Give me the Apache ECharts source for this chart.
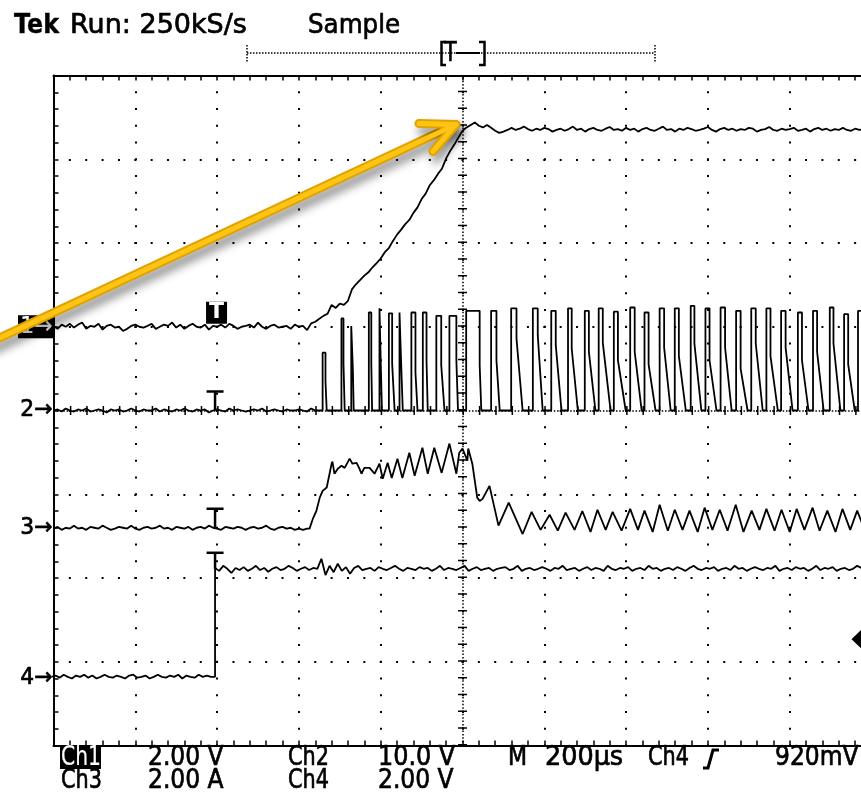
<!DOCTYPE html>
<html><head><meta charset="utf-8">
<script src="https://cdn.jsdelivr.net/npm/echarts@6/dist/echarts.min.js"></script>
<style>html,body{margin:0;padding:0;background:#fff;}#c{width:861px;height:798px;}</style>
</head><body><div id="c"></div>
<script>
// ---------------- DATA (time in µs from trigger, values in channel units) ----------------
const STEP_US = 10;
const timeMin = -400, timeMax = 1600, timeInterval = 200;
const channelLabels = ['Ch1', 'Ch2', 'Ch3', 'Ch4'];
const channelUnits = ['2.00 V', '10.0 V', '2.00 A', '2.00 V'];
const unitsPerDiv = [2, 10, 2, 2];
const timebaseLabel = '200µs';
const triggerLabel = '920mV';
const triggerLevelCh4 = 0.92;       // V
const triggerTime = -5;             // µs
const triggerMarkValues = [0, 0, 0, 2.6];

// Ch1 (V), sampled every 10 µs
const ch1PreStart = -400;
const ch1Pre = [0.02,-0.05,0.05,0.00,0.07,-0.02,0.05,0.10,-0.05,0.02,
  0.00,0.07,-0.07,0.02,0.05,-0.02,0.00,-0.10,-0.05,0.02,
  0.05,0.00,-0.02,0.02,0.07,-0.05,0.00,0.05,0.02,0.10,
  -0.02,0.05,-0.05,0.02,0.07,0.00,-0.02,0.05,-0.07,0.02,
  0.00,0.05,-0.02,0.07,0.02,-0.05,0.00,0.02,0.05,-0.02,
  0.10,0.00,-0.05,0.02,0.05,-0.02,0.00,0.02,-0.05,0.05,
  0.00,0.02];
const ch1RiseStart = 220;
const ch1Rise = [-0.08,0.08,0.12,0.19,0.26,0.31,0.52,0.45,0.55,0.52,0.62,0.90,1.02,1.12,1.22,1.30,1.42,1.52,1.63,1.78,
  1.88,2.05,2.20,2.32,2.45,2.55,2.72,2.85,3.05,3.18,3.38,3.50,3.65,3.78,4.02,4.20,4.35,4.52,4.68,4.76,4.82,4.88,4.80];
const ch1TopStart = 650;
const ch1Top = [4.76,4.82,4.75,4.68,4.63,4.66,4.70,4.75,4.70,4.73,
  4.78,4.72,4.68,4.73,4.70,4.75,4.72,4.66,4.70,4.73,
  4.68,4.72,4.78,4.70,4.73,4.66,4.72,4.75,4.70,4.68,
  4.73,4.77,4.70,4.72,4.68,4.75,4.70,4.73,4.66,4.72,
  4.75,4.70,4.68,4.73,4.78,4.70,4.72,4.66,4.73,4.70,
  4.75,4.72,4.68,4.70,4.73,4.77,4.70,4.66,4.72,4.75,
  4.70,4.73,4.68,4.72,4.70,4.75,4.73,4.66,4.70,4.72,
  4.77,4.70,4.68,4.73,4.70,4.72,4.75,4.68,4.70,4.73,
  4.66,4.72,4.75,4.70,4.73,4.68,4.72,4.70,4.75,4.70,
  4.68,4.73,4.70,4.72,4.75,4.70];

// Ch2 (V): baseline samples, then pulses [tRise, tFall, vTop, vShoulder, tLow]
const ch2BaseStart = -400;
const ch2Base = [0.00,0.12,-0.12,0.24,0.00,-0.12,0.12,0.00,0.24,-0.12,
  0.00,0.12,0.00,-0.24,0.12,0.00,0.12,-0.12,0.00,0.24,
  0.00,-0.12,0.12,0.00,0.00,0.24,-0.12,0.12,0.00,-0.12,
  0.12,0.00,0.24,0.00,-0.12,0.12,0.00,0.12,-0.24,0.00,
  0.12,0.00,-0.12,0.24,0.00,0.12,0.00,-0.12,0.00,0.12,
  0.00,0.24,-0.12,0.00,0.12,0.00,-0.12,0.12,0.00,0.00,
  0.12,0.00,-0.12,0.24,0.00,0.00];
const ch2Pulses = [
  [258,265,6.9,3.5,268],[304,309,11.0,5.6,312],[328,332,10.1,4.8,334],[371,377,11.7,5.6,379],
  [397,401,12.2,4.0,403],[420,428,11.6,5.6,434],[446,450,11.7,5.6,454],[475,485,11.7,4.5,490],
  [503,512,11.7,6.0,515],[536,548,11.3,5.4,556],[568,585,11.3,6.0,589],[609,642,11.9,5.4,646],
  [670,683,11.9,6.0,691],[719,732,12.2,8.6,747],[772,784,12.2,9.0,796],[817,828,11.9,7.8,842],
  [858,867,12.2,7.4,882],[899,909,11.9,7.0,925],[933,943,12.2,8.1,962],[970,980,11.8,6.0,999],
  [1010,1021,12.3,7.0,1038],[1045,1055,11.7,5.5,1072],[1082,1093,12.2,7.5,1109],[1119,1129,12.2,6.5,1146],
  [1158,1167,12.5,8.0,1184],[1194,1204,12.2,6.0,1221],[1231,1242,12.3,7.5,1258],[1269,1280,11.9,5.0,1297],
  [1306,1317,12.2,8.0,1334],[1343,1353,12.2,6.5,1371],[1379,1390,11.9,7.5,1407],[1420,1430,11.7,6.0,1446],
  [1457,1467,11.9,7.0,1483],[1498,1507,12.3,8.0,1524],[1533,1543,11.5,5.5,1559],[1567,1577,11.9,7.0,1593]
];

// Ch3 (A): flat samples, then waveform vertices [t, A]
const ch3PreStart = -400;
const ch3Pre = [-0.02,0.02,-0.05,0.00,-0.02,0.05,-0.02,0.00,-0.05,0.02,
  0.00,-0.02,0.05,0.00,-0.05,-0.02,0.02,0.00,-0.02,0.05,
  -0.02,-0.05,0.00,0.02,-0.02,0.00,0.05,-0.02,0.00,-0.05,
  0.02,0.00,-0.02,0.02,-0.05,0.00,0.02,-0.02,0.05,0.00,
  -0.02,-0.05,0.02,0.00,-0.02,0.02,0.00,-0.05,0.00,0.02,
  -0.02,0.00,0.05,-0.02,-0.05,0.00,0.02,-0.02,0.00,-0.05,
  -0.02,-0.05,-0.02];
const ch3Wave = [[226,-0.02],[234,0.21],[243,0.41],[251,0.72],[258,0.88],[268,0.96],[275,1.29],[280,1.53],[282,1.58],
  [287,1.29],[295,1.41],[304,1.48],[312,1.43],[324,1.65],[331,1.53],[341,1.55],[348,1.41],[353,1.29],[360,1.43],
  [373,1.43],[385,1.29],[397,1.53],[405,1.17],[417,1.55],[427,1.19],[441,1.65],[453,1.19],[470,1.79],[483,1.24],
  [502,1.91],[515,1.29],[531,1.91],[549,1.31],[568,2.01],[585,1.29],[592,1.79],[600,1.89],[612,1.60],[614,1.89],
  [624,1.53],[636,0.72],[642,0.64],[649,0.69],[666,1.00],[688,0.05],[713,0.60],[747,-0.15],[769,0.38],[791,-0.05],
  [813,0.31],[833,-0.07],[852,0.36],[874,-0.05],[893,0.40],[913,-0.10],[930,0.43],[950,-0.05],[967,0.38],[989,-0.07],
  [1010,0.45],[1029,-0.05],[1045,0.41],[1065,-0.10],[1082,0.55],[1102,-0.07],[1119,0.43],[1138,-0.05],[1155,0.41],
  [1175,-0.10],[1192,0.48],[1211,-0.05],[1229,0.43],[1248,-0.07],[1268,0.55],[1287,-0.10],[1307,0.41],[1326,-0.05],
  [1343,0.45],[1363,-0.07],[1380,0.43],[1400,-0.10],[1417,0.45],[1436,-0.05],[1456,0.48],[1473,-0.07],[1492,0.41],
  [1512,-0.10],[1529,0.45],[1548,-0.05],[1565,0.41],[1584,-0.07],[1600,0.40]];

// Ch4 (V)
const ch4PreStart = -405;
const ch4Pre = [0.02,0.05,0.00,0.07,0.02,-0.02,0.05,0.02,0.07,0.00,
  0.05,-0.02,0.02,0.07,0.02,0.00,0.05,0.02,-0.02,0.05,
  0.07,0.00,0.02,0.05,-0.02,0.02,0.07,0.02,0.00,0.05,
  0.02,0.07,-0.02,0.05,0.02,0.00,0.07,0.02,0.05,0.02,0.02];
const ch4PostStart = -5;
const ch4Post = [2.62,2.55,2.67,2.60,2.50,2.62,2.57,2.64,2.55,2.60,
  2.67,2.57,2.62,2.53,2.60,2.64,2.57,2.60,2.67,2.62,
  2.55,2.60,2.64,2.57,2.62,2.60,2.84,2.45,2.67,2.52,
  2.72,2.55,2.64,2.48,2.62,2.67,2.57,2.60,2.62,2.55,
  2.64,2.60,2.57,2.62,2.67,2.60,2.55,2.62,2.60,2.57,
  2.64,2.60,2.62,2.55,2.60,2.67,2.57,2.62,2.60,2.57,
  2.62,2.67,2.55,2.60,2.64,2.57,2.60,2.62,2.55,2.60,
  2.62,2.64,2.57,2.60,2.67,2.55,2.60,2.62,2.57,2.60,
  2.64,2.60,2.55,2.62,2.60,2.67,2.57,2.60,2.62,2.55,
  2.60,2.64,2.57,2.62,2.60,2.55,2.67,2.60,2.57,2.62,
  2.60,2.64,2.55,2.60,2.62,2.57,2.67,2.60,2.62,2.55,
  2.60,2.62,2.57,2.64,2.60,2.55,2.62,2.67,2.60,2.57,
  2.62,2.60,2.64,2.55,2.60,2.62,2.57,2.67,2.60,2.62,
  2.55,2.60,2.64,2.60,2.57,2.62,2.60,2.67,2.55,2.60,
  2.62,2.57,2.64,2.60,2.62,2.55,2.60,2.67,2.57,2.62,
  2.60,2.64,2.55,2.60,2.62,2.57,2.60,2.67,2.62,2.60,
  2.62];

// ---------------- LAYOUT (screen divisions) ----------------
const groundDiv = [1.0, 0, -1.40, -3.19];

// ---------------- BUILD ----------------
function samples(start, values) { return values.map((v, i) => [start + i * STEP_US, v]); }
function before(arr, t) { return arr.filter(p => p[0] < t); }
function toDiv(points, k) { return points.map(p => [p[0], p[1] / unitsPerDiv[k] + groundDiv[k]]); }

const ch1Data = [...before(samples(ch1PreStart, ch1Pre), ch1RiseStart),
                 ...before(samples(ch1RiseStart, ch1Rise), ch1TopStart),
                 ...samples(ch1TopStart, ch1Top)];
const ch2Data = before(samples(ch2BaseStart, ch2Base), ch2Pulses[0][0]);
ch2Pulses.forEach(([r, f, top, mid, low]) => {
  ch2Data.push([r, 0], [r, top], [f, top], [f, mid], [low, 0]);
});
const ch3Data = [...before(samples(ch3PreStart, ch3Pre), ch3Wave[0][0]), ...ch3Wave];
const ch4Data = [...samples(ch4PreStart, ch4Pre), ...samples(ch4PostStart, ch4Post)];

const traces = [ch1Data, ch2Data, ch3Data, ch4Data];

const axisCommon = {
  type: 'value', axisLabel: { show: false },
  axisLine: { show: true, onZero: false, lineStyle: { color: '#000', width: 2 } },
  axisTick: { show: true, inside: true, length: 5, lineStyle: { color: '#000', width: 1.5 } },
  minorTick: { show: true, splitNumber: 5, length: 5, lineStyle: { color: '#000', width: 1.5 } },
  minorSplitLine: { show: false }
};

const series = traces.map((d, k) => ({
  name: channelLabels[k], type: 'line', data: toDiv(d, k), showSymbol: false, symbol: 'none',
  lineStyle: { color: '#000', width: 1.8 }, silent: true, z: 3, animation: false, clip: true
}));
series[1].markLine = {
  silent: true, symbol: 'none', label: { show: false }, animation: false,
  data: [
    { xAxis: 600, lineStyle: { color: '#000', width: 1.5, type: [1.5, 1.85] } },
    { xAxis: 600, lineStyle: { color: '#000', width: 9, type: [1.5, 15.25] } },
    { yAxis: 0, lineStyle: { color: '#000', width: 1.5, type: [1.5, 1.77] } },
    { yAxis: 0, lineStyle: { color: '#000', width: 9, type: [1.5, 14.86] } }
  ]
};

const option = {
  animation: false, backgroundColor: '#fff',
  grid: { left: 53.5, top: 75.5, width: 818, height: 670, containLabel: false, outerBoundsMode: 'none' },
  xAxis: [
    Object.assign({}, axisCommon, { min: timeMin, max: timeMax, interval: timeInterval, position: 'bottom',
      splitLine: { show: true, lineStyle: { color: '#000', width: 2, type: [2, 14.75], dashOffset: 1 } } }),
    Object.assign({}, axisCommon, { min: timeMin, max: timeMax, interval: timeInterval, position: 'top',
      splitLine: { show: false } })
  ],
  yAxis: [
    Object.assign({}, axisCommon, { min: -4, max: 4, interval: 1, position: 'left',
      splitLine: { show: true, lineStyle: { color: '#000', width: 2, type: [2, 14.36], dashOffset: 1 } } })
  ],
  series
};

const chart = echarts.init(document.getElementById('c'));
chart.setOption(option);

// ---------------- ANNOTATIONS ----------------
const px = (t, d) => chart.convertToPixel({ gridIndex: 0 }, [t, d]);
const G = [];
const FONT = 'DejaVu Sans';
function txt(x, y, s, o = {}) {
  const fill = o.fill || '#000';
  G.push({ type: 'text', x, y, scaleX: o.sx ?? 0.9, z: o.z ?? 50,
    style: { text: s, fill, stroke: fill, lineWidth: o.lw ?? 0.7, fontSize: o.fs || 26, fontFamily: FONT,
      fontWeight: o.fw || 'normal', align: o.align || 'left', verticalAlign: 'middle' } });
}
function seg(x1, y1, x2, y2, w, dash, z) {
  G.push({ type: 'line', z: z ?? 50, shape: { x1, y1, x2, y2 },
    style: { stroke: '#000', lineWidth: w, lineDash: dash || null } });
}
const leftX = px(timeMin, 0)[0];

// header
txt(14, 26, 'Tek', { fw: 'bold', fs: 27, sx: 0.88, lw: 0.4 });
txt(70, 26, 'Run: 250kS/s', { fs: 27, sx: 1.0 });
txt(308, 26, 'Sample', { fs: 27, sx: 0.91 });
seg(247, 53, 655, 53, 1.5, [1.5, 1.5]);
seg(247, 45, 247, 62, 1.5, [1.5, 1.5]);
seg(655, 45, 655, 62, 1.5, [1.5, 1.5]);
G.push({ type: 'polyline', z: 50, shape: { points: [[446, 42], [441.5, 42], [441.5, 65], [446, 65]] }, style: { stroke: '#000', lineWidth: 2.5, fill: null } });
G.push({ type: 'polyline', z: 50, shape: { points: [[479, 42], [484.5, 42], [484.5, 65], [479, 65]] }, style: { stroke: '#000', lineWidth: 2.5, fill: null } });
txt(444, 54, 'T', { fs: 26, sx: 0.8 });
seg(456, 53, 480, 53, 2);

// footer
G.push({ type: 'rect', z: 49, shape: { x: 60, y: 747, width: 41, height: 22 }, style: { fill: '#000' } });
txt(61, 758, channelLabels[0], { fill: '#fff', sx: 0.78, lw: 0.2 });
txt(148, 758, channelUnits[0]);
txt(288, 758, channelLabels[1], { sx: 0.8 });
txt(378, 758, channelUnits[1], { sx: 0.92 });
txt(508, 758, 'M', { sx: 0.85 });
txt(545, 758, timebaseLabel, { sx: 0.98 });
txt(648, 758, 'Ch4', { sx: 0.8 });
G.push({ type: 'polyline', z: 50, shape: { points: [[703, 768], [708, 768], [713, 750], [719, 750]] }, style: { stroke: '#000', lineWidth: 3, fill: null } });
txt(775, 758, triggerLabel, { sx: 0.9 });
txt(61, 781, channelLabels[2], { sx: 0.8 });
txt(148, 781, channelUnits[2]);
txt(288, 781, channelLabels[3], { sx: 0.8 });
txt(378, 781, channelUnits[3]);

// channel ground markers
groundDiv.forEach((g, k) => {
  const y = px(timeMin, g)[1];
  if (k === 0) {
    G.push({ type: 'rect', z: 49, shape: { x: 18, y: y - 11.5, width: leftX - 18, height: 23 }, style: { fill: '#000' } });
    txt(leftX - 1, y, '1→', { fill: '#fff', fs: 23, align: 'right', sx: 0.95, lw: 0.2 });
  } else {
    txt(leftX - 1, y, (k + 1) + '→', { fs: 23, align: 'right', sx: 0.95 });
  }
});

// trigger T marks
triggerMarkValues.forEach((v, k) => {
  const p = px(triggerTime, v / unitsPerDiv[k] + groundDiv[k]);
  if (k === 0) {
    G.push({ type: 'rect', z: 49, shape: { x: p[0] - 9, y: p[1] - 25, width: 21, height: 22 }, style: { fill: '#000' } });
    txt(p[0] + 1.5, p[1] - 14, 'T', { fill: '#fff', fs: 22, align: 'center', sx: 1, fw: 'bold', lw: 0 });
  } else {
    const h = k === 3 ? 16 : 19;
    seg(p[0] - 8.5, p[1] - h, p[0] + 8.5, p[1] - h, 2.5);
    seg(p[0], p[1] - h, p[0], p[1], 2.5);
  }
});

// trigger level diamond (Ch4)
const tl = px(timeMax, triggerLevelCh4 / unitsPerDiv[3] + groundDiv[3]);
G.push({ type: 'polygon', z: 50, shape: { points: [[tl[0] - 20, tl[1]], [tl[0] - 10, tl[1] - 9.5], [tl[0], tl[1]], [tl[0] - 10, tl[1] + 9.5]] }, style: { fill: '#000' } });

// yellow annotation arrow
const tip = px(584, 3.415), tail = px(-556, 0.81);
const arm1 = [tip[0] - 37, tip[1] - 1], arm2 = [tip[0] - 23, tip[1] + 27];
const shadow = { shadowBlur: 10, shadowColor: 'rgba(0,0,0,0.45)', shadowOffsetX: 3, shadowOffsetY: 7 };
G.push({ type: 'polyline', z: 60, shape: { points: [tail, tip] }, style: Object.assign({ stroke: '#E0A200', lineWidth: 9, lineCap: 'round', fill: null }, shadow) });
G.push({ type: 'polyline', z: 60, shape: { points: [arm1, tip, arm2] }, style: Object.assign({ stroke: '#E0A200', lineWidth: 9, lineCap: 'round', lineJoin: 'round', fill: null }, shadow) });
G.push({ type: 'polyline', z: 61, shape: { points: [tail, tip] }, style: { stroke: '#FFC414', lineWidth: 5, lineCap: 'round', fill: null } });
G.push({ type: 'polyline', z: 61, shape: { points: [arm1, tip, arm2] }, style: { stroke: '#FFC414', lineWidth: 5, lineCap: 'round', lineJoin: 'round', fill: null } });

chart.setOption({ graphic: G });
</script></body></html>
